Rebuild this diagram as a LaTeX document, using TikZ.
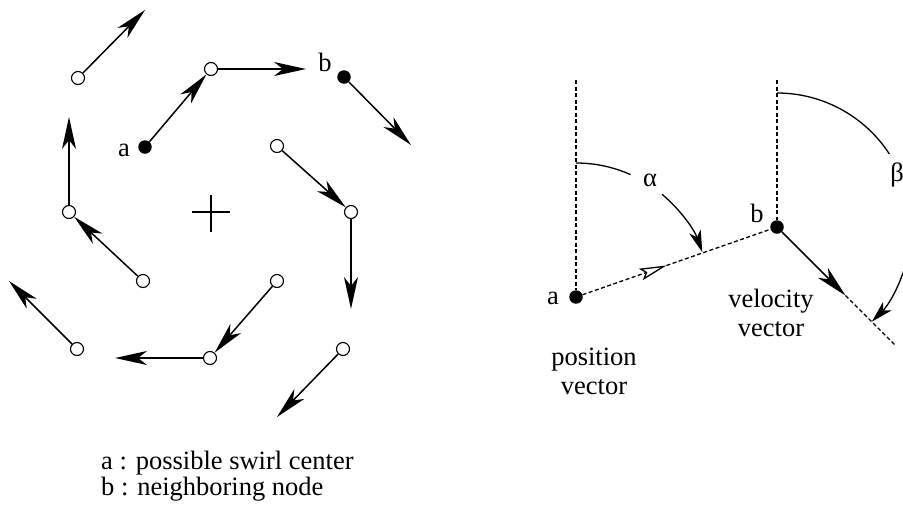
\documentclass[tikz,border=0pt]{standalone}
\usepackage{fontspec}
\setmainfont{Liberation Serif}
\usetikzlibrary{arrows.meta,calc}
\begin{document}
\begin{tikzpicture}[x=1pt,y=-1pt,
  oc/.style={circle,draw,line width=1.1pt,minimum size=13pt,inner sep=0pt},
  fd/.style={circle,fill,minimum size=13.5pt,inner sep=0pt},
  vec/.style={line width=1.5pt,-{Stealth[length=32pt,width=14pt,inset=9pt]}},
  arcarrow/.style={line width=1.3pt,-{Stealth[length=22pt,width=12pt,inset=6pt]}},
  thin arc/.style={line width=1.3pt},
  lbl/.style={font=\fontsize{26.5}{29}\selectfont, inner sep=0pt},
  dsh/.style={line width=1.3pt,dash pattern=on 4pt off 2.5pt}]
\useasboundingbox (0,0) rectangle (903,517);

% ---------- left panel ----------
\node[oc] (c1) at (78,78) {};
\node[oc] (c2) at (211,69) {};
\node[fd] (la) at (145,147) {};
\node[fd] (lb) at (344,77) {};
\node[oc] (c3) at (277,146) {};
\node[oc] (c4) at (351,212) {};
\node[oc] (c5) at (277,281) {};
\node[oc] (c6) at (210,358) {};
\node[oc] (c7) at (343,349) {};
\node[oc] (c8) at (77,349) {};
\node[oc] (c9) at (143,281) {};
\node[oc] (c10) at (69,212) {};

\coordinate (t1) at (145,10);
\coordinate (t2) at (306,69);
\coordinate (tb) at (411,145);
\coordinate (t4) at (351,309);
\coordinate (t6) at (115,358);
\coordinate (t7) at (277,417);
\coordinate (t8) at (9,281);
\coordinate (t10) at (69,117);

\draw[vec] (c1) -- (t1);
\draw[vec] (c2) -- (t2);
\draw[vec] (lb) -- (tb);
\draw[vec] (la) -- (c2);
\draw[vec] (c3) -- (c4);
\draw[vec] (c4) -- (t4);
\draw[vec] (c5) -- (c6);
\draw[vec] (c6) -- (t6);
\draw[vec] (c7) -- (t7);
\draw[vec] (c8) -- (t8);
\draw[vec] (c9) -- (c10);
\draw[vec] (c10) -- (t10);

\coordinate (pc) at (211,212);
\draw[line width=1.2pt] ($(pc)+(-19,0)$) -- ($(pc)+(19,0)$);
\draw[line width=1.2pt] ($(pc)+(0,-17)$) -- ($(pc)+(0,20)$);

\node[lbl] (lalab) at (124,150) {a};
\node[lbl] (lblab) at (325,62) {b};

\node[lbl,anchor=base west] (leg1) at (101,469) {a : possible swirl center};
\node[lbl,anchor=base west] (leg2) at (101,495) {b : neighboring node};

% ---------- right panel ----------
\node[fd] (ra) at (576,297) {};
\node[fd] (rb) at (777,227) {};
\coordinate (ta) at (576,80);
\coordinate (tbb) at (777,80);
\draw[dsh] (ta) -- (ra);
\draw[dsh] (tbb) -- (rb);

\coordinate (h) at ($(ra)!0.45!(rb)$);
\draw[dsh,-{Stealth[open,length=27pt,width=12pt,inset=5pt,line width=1.3pt]}] (ra) -- (h);
\draw[dsh] (h) -- (rb);

% alpha arc
\draw[thin arc] ($(ra)+(-90:134)$) arc[start angle=-90,end angle=-66,radius=134];
\draw[arcarrow] ($(ra)+(-50:134)$) arc[start angle=-50,end angle=-19.5,radius=134];
\node[lbl] (alab) at (650,180) {α};

% beta arc
\draw[thin arc] ($(rb)+(-90:134)$) arc[start angle=-90,end angle=-33,radius=134];
\draw[arcarrow] ($(rb)+(12:134)$) arc[start angle=12,end angle=45,radius=134];
\node[lbl] (blab) at (897,175) {β};

% velocity
\coordinate (vt) at ($(rb)+(45:97)$);
\coordinate (ve) at ($(rb)+(45:168)$);
\draw[vec] (rb) -- (vt);
\draw[dsh] (vt) -- (ve);

\node[lbl] (ralab) at (553,298) {a};
\node[lbl] (rblab) at (757,213) {b};
\node[lbl,align=center] (plab) at (594,371) {position\\vector};
\node[lbl,align=center] (vlab) at (771,313) {velocity\\vector};
\end{tikzpicture}
\end{document}
